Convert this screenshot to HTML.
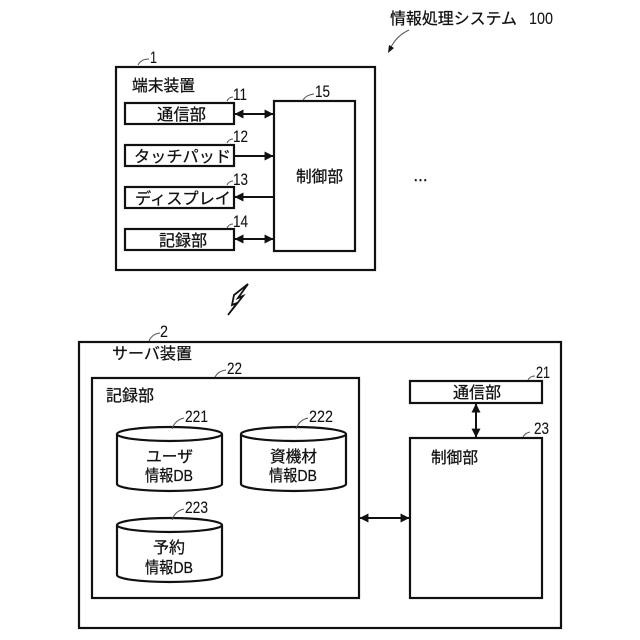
<!DOCTYPE html>
<html><head><meta charset="utf-8"><style>
html,body{margin:0;padding:0;background:#fff}
svg{display:block}
text{font-family:"Liberation Sans","Noto Sans CJK JP",sans-serif;font-size:16px;fill:#111;stroke:#111;stroke-width:.25}
.n{font-size:17px;font-family:"Liberation Sans",sans-serif;stroke-width:.1}
rect,path.c{fill:#fff;stroke:#111;stroke-width:2.2}
.l{fill:none;stroke:#111;stroke-width:2}
.t{fill:none;stroke:#555;stroke-width:1}
</style></head><body>
<svg width="640" height="640" viewBox="0 0 640 640" xmlns="http://www.w3.org/2000/svg">
<defs>
<marker id="a" viewBox="0 0 8 8" refX="7.5" refY="4" markerWidth="9" markerHeight="9" markerUnits="userSpaceOnUse" orient="auto-start-reverse"><path d="M0 0L8 4L0 8Z" fill="#111"/></marker>
</defs>

<text x="390" y="24" textLength="127" lengthAdjust="spacingAndGlyphs">情報処理システム</text>
<text x="529" y="24" class="n" textLength="24" lengthAdjust="spacingAndGlyphs">100</text>
<path d="M409 30Q396 36 390 49" class="t"/>
<path d="M388 53L389 45L394 48Z" fill="#111"/>

<rect x="116" y="67" width="259" height="203"/>
<text x="150" y="63" class="n" textLength="7" lengthAdjust="spacingAndGlyphs">1</text>
<path d="M138 65Q141 59 149 59" class="t"/>
<text x="132" y="91" textLength="63" lengthAdjust="spacingAndGlyphs">端末装置</text>

<rect x="125" y="103" width="109" height="21"/>
<text x="157" y="120" textLength="49" lengthAdjust="spacingAndGlyphs">通信部</text>
<rect x="125" y="145" width="109" height="21"/>
<text x="134" y="162" textLength="97" lengthAdjust="spacingAndGlyphs">タッチパッド</text>
<rect x="125" y="187" width="109" height="21"/>
<text x="135" y="204" textLength="96" lengthAdjust="spacingAndGlyphs">ディスプレイ</text>
<rect x="125" y="229" width="109" height="21"/>
<text x="159" y="246" textLength="48" lengthAdjust="spacingAndGlyphs">記録部</text>
<rect x="274" y="101" width="81" height="150"/>
<text x="296" y="182" textLength="47" lengthAdjust="spacingAndGlyphs">制御部</text>

<text x="233" y="100" class="n" textLength="14" lengthAdjust="spacingAndGlyphs">11</text>
<text x="233" y="142" class="n" textLength="15" lengthAdjust="spacingAndGlyphs">12</text>
<text x="233" y="185" class="n" textLength="15" lengthAdjust="spacingAndGlyphs">13</text>
<text x="233" y="227" class="n" textLength="15" lengthAdjust="spacingAndGlyphs">14</text>
<text x="315" y="97" class="n" textLength="15" lengthAdjust="spacingAndGlyphs">15</text>
<path d="M227 101Q229 97 233 97M227 143Q229 139 233 139M227 185Q229 181 233 181M227 228Q229 224 233 224M303 100Q306 95 314 94" class="t"/>

<path d="M235 114H273" class="l" marker-start="url(#a)" marker-end="url(#a)"/>
<path d="M235 156H273" class="l" marker-end="url(#a)"/>
<path d="M235 197H273" class="l" marker-start="url(#a)"/>
<path d="M235 239H273" class="l" marker-start="url(#a)" marker-end="url(#a)"/>

<text x="413" y="181" style="font-size:15px;stroke-width:.5">…</text>

<path d="M248 284L234 295L232 305L237 303L228 315L243 296L238 298Z" fill="#fff" stroke="#111" stroke-width="1.8" stroke-linejoin="miter"/>

<rect x="79" y="342" width="482" height="286"/>
<text x="160" y="337" class="n" textLength="8" lengthAdjust="spacingAndGlyphs">2</text>
<path d="M149 341Q152 334 160 333" class="t"/>
<text x="112" y="359" textLength="80" lengthAdjust="spacingAndGlyphs">サーバ装置</text>

<rect x="92" y="378" width="267" height="220"/>
<text x="227" y="374" class="n" textLength="15" lengthAdjust="spacingAndGlyphs">22</text>
<path d="M215 377Q218 371 226 370" class="t"/>
<text x="106" y="401" textLength="48" lengthAdjust="spacingAndGlyphs">記録部</text>

<path class="c" d="M117 434V484A52.500 7 0 0 0 222 484V434"/>
<ellipse cx="169.500" cy="434" rx="52.500" ry="7" fill="#fff" stroke="#111" stroke-width="2.2"/>
<path class="c" d="M241 434V484A52.500 7 0 0 0 346 484V434"/>
<ellipse cx="293.500" cy="434" rx="52.500" ry="7" fill="#fff" stroke="#111" stroke-width="2.2"/>
<path class="c" d="M117 525V575A52.500 7 0 0 0 222 575V525"/>
<ellipse cx="169.500" cy="525" rx="52.500" ry="7" fill="#fff" stroke="#111" stroke-width="2.2"/>

<text x="185" y="422" class="n" textLength="23" lengthAdjust="spacingAndGlyphs">221</text>
<text x="309" y="422" class="n" textLength="24" lengthAdjust="spacingAndGlyphs">222</text>
<text x="185" y="513" class="n" textLength="23" lengthAdjust="spacingAndGlyphs">223</text>
<path d="M172 429Q175 420 184 418M296 429Q299 420 308 418M172 520Q175 511 184 509" class="t"/>

<text x="146" y="462" textLength="47" lengthAdjust="spacingAndGlyphs">ユーザ</text>
<text x="145" y="481" textLength="48" lengthAdjust="spacingAndGlyphs">情報DB</text>
<text x="270" y="462" textLength="47" lengthAdjust="spacingAndGlyphs">資機材</text>
<text x="269" y="481" textLength="48" lengthAdjust="spacingAndGlyphs">情報DB</text>
<text x="153" y="553" textLength="32" lengthAdjust="spacingAndGlyphs">予約</text>
<text x="145" y="573" textLength="48" lengthAdjust="spacingAndGlyphs">情報DB</text>

<rect x="410" y="381" width="132" height="22"/>
<text x="453" y="398" textLength="48" lengthAdjust="spacingAndGlyphs">通信部</text>
<text x="536" y="378" class="n" textLength="14" lengthAdjust="spacingAndGlyphs">21</text>
<path d="M528 380Q530 376 535 376" class="t"/>
<rect x="410" y="438" width="132" height="160"/>
<text x="431" y="463" textLength="47" lengthAdjust="spacingAndGlyphs">制御部</text>
<text x="534" y="434" class="n" textLength="15" lengthAdjust="spacingAndGlyphs">23</text>
<path d="M523 437Q525 433 530 432" class="t"/>

<path d="M476 404V437" class="l" marker-start="url(#a)" marker-end="url(#a)"/>
<path d="M360 518H409" class="l" marker-start="url(#a)" marker-end="url(#a)"/>
</svg>
</body></html>
